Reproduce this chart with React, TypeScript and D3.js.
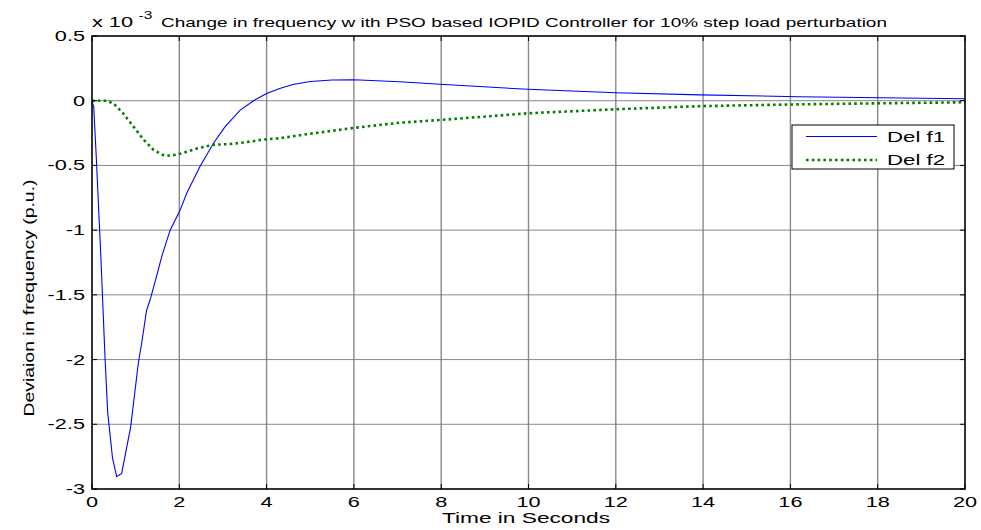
import React from "react";
import * as d3 from "d3";

const xTicks = [0, 2, 4, 6, 8, 10, 12, 14, 16, 18, 20];
const yTicks = [0.5, 0, -0.5, -1, -1.5, -2, -2.5, -3];
const yTickLabels = ["0.5", "0", "-0.5", "-1", "-1.5", "-2", "-2.5", "-3"];

const f1Time = [0, 0.04, 0.1, 0.206, 0.3, 0.36, 0.47, 0.565, 0.68, 0.886, 1.06, 1.14, 1.25, 1.33, 1.5, 1.6, 1.79, 2.02, 2.17, 2.47, 2.78, 3.05, 3.39, 3.7, 4.0, 4.3, 4.6, 5.0, 5.5, 6.0, 7.05, 7.97, 9.99, 12.0, 13.93, 16.2, 18.05, 20];
const f1Value = [0, -0.05, -0.45, -1.23, -2.0, -2.41, -2.76, -2.905, -2.88, -2.52, -2.03, -1.87, -1.62, -1.54, -1.33, -1.2, -1.0, -0.845, -0.715, -0.51, -0.33, -0.2, -0.075, 0.0, 0.055, 0.095, 0.125, 0.148, 0.16, 0.162, 0.147, 0.127, 0.088, 0.062, 0.045, 0.031, 0.023, 0.015];

const f2Time = [0, 0.33, 0.49, 0.72, 0.95, 1.18, 1.41, 1.63, 1.79, 2.02, 2.4, 2.78, 3.16, 3.54, 3.92, 4.3, 5.0, 6.0, 7.05, 7.97, 9.99, 12.0, 13.93, 16.2, 18.05, 20];
const f2Value = [0, 0, -0.02, -0.1, -0.2, -0.3, -0.38, -0.42, -0.425, -0.41, -0.37, -0.34, -0.335, -0.32, -0.3, -0.29, -0.255, -0.21, -0.17, -0.149, -0.097, -0.066, -0.042, -0.028, -0.02, -0.012];

const seriesNames = ["Del f1", "Del f2"];
const titleText = "Change in frequency w ith PSO based IOPID Controller for 10% step load perturbation";
const xLabel = "Time in Seconds";
const yLabel = "Deviaion in frequency (p.u.)";

const W = 981;
const H = 530;
const L = 92, R = 965, T = 36, B = 489;
const FONT = "Arial, 'Liberation Sans', Helvetica, sans-serif";
const SX = 1.55;

export default function App() {
  const x = d3.scaleLinear().domain([0, 20]).range([L, R]);
  const y = d3.scaleLinear().domain([-3, 0.5]).range([B, T]);
  const line = d3.line<[number, number]>().x((d) => x(d[0])).y((d) => y(d[1]));
  const f1 = f1Time.map((t, i) => [t, f1Value[i]] as [number, number]);
  const f2 = f2Time.map((t, i) => [t, f2Value[i]] as [number, number]);

  const sText = (px: number, py: number, s: string, anchor: string, size = 14, key?: any) => (
    <text key={key} transform={`translate(${px},${py}) scale(${SX},1)`} textAnchor={anchor} fontSize={size} fontFamily={FONT} fill="#000">
      {s}
    </text>
  );

  return (
    <svg width={W} height={H} style={{ position: "absolute", left: 0, top: 0, background: "#fff" }}>
      <rect x={0} y={0} width={W} height={H} fill="#fff" />
      {/* grid */}
      {xTicks.slice(1, -1).map((t) => (
        <line key={"gx" + t} x1={x(t)} x2={x(t)} y1={T} y2={B} stroke="#8a8a8a" strokeWidth={1.4} />
      ))}
      {yTicks.slice(1, -1).map((t) => (
        <line key={"gy" + t} x1={L} x2={R} y1={y(t)} y2={y(t)} stroke="#7a7a7a" strokeWidth={0.9} />
      ))}
      {/* series */}
      <path d={line(f1) || ""} fill="none" stroke="#0000ff" strokeWidth={1.1} />
      <path d={line(f2) || ""} fill="none" stroke="#008000" strokeWidth={2.6} strokeDasharray="2.6,3.2" />
      {/* frame */}
      <rect x={L} y={T} width={R - L} height={B - T} fill="none" stroke="#000" strokeWidth={1.6} />
      {/* ticks */}
      {xTicks.map((t) => (
        <g key={"tx" + t}>
          <line x1={x(t)} x2={x(t)} y1={B} y2={B - 5} stroke="#000" />
          <line x1={x(t)} x2={x(t)} y1={T} y2={T + 5} stroke="#000" />
          {sText(x(t), 507, String(t), "middle")}
        </g>
      ))}
      {yTicks.map((t, i) => (
        <g key={"ty" + t}>
          <line x1={L} x2={L + 5} y1={y(t)} y2={y(t)} stroke="#000" />
          <line x1={R} x2={R - 5} y1={y(t)} y2={y(t)} stroke="#000" />
          {sText(85, y(t) + 5, yTickLabels[i], "end")}
        </g>
      ))}
      {/* exponent */}
      {sText(92, 27, "x 10", "start", 14)}
      {sText(138.5, 19, "-3", "start", 10)}
      {/* title */}
      <text x={161} y={26.5} fontSize={12.5} fontFamily={FONT} textLength={726} lengthAdjust="spacingAndGlyphs">
        {titleText}
      </text>
      {/* x label */}
      <text x={442} y={523} fontSize={14} fontFamily={FONT} textLength={168} lengthAdjust="spacingAndGlyphs">
        {xLabel}
      </text>
      {/* y label */}
      <text transform={`translate(34,298) rotate(-90)`} textAnchor="middle" fontSize={14.5} fontFamily={FONT} textLength={237} lengthAdjust="spacingAndGlyphs">
        {yLabel}
      </text>
      {/* legend */}
      <rect x={792} y={125} width={162} height={44} fill="#fff" stroke="#000" strokeWidth={1} />
      <line x1={806} x2={877} y1={136.5} y2={136.5} stroke="#0000ff" strokeWidth={1} />
      <line x1={806} x2={877} y1={160} y2={160} stroke="#008000" strokeWidth={2.6} strokeDasharray="2.6,3.2" />
      <text x={887} y={141.5} fontSize={14} fontFamily={FONT} textLength={58} lengthAdjust="spacingAndGlyphs">{seriesNames[0]}</text>
      <text x={887} y={165} fontSize={14} fontFamily={FONT} textLength={58} lengthAdjust="spacingAndGlyphs">{seriesNames[1]}</text>
    </svg>
  );
}
